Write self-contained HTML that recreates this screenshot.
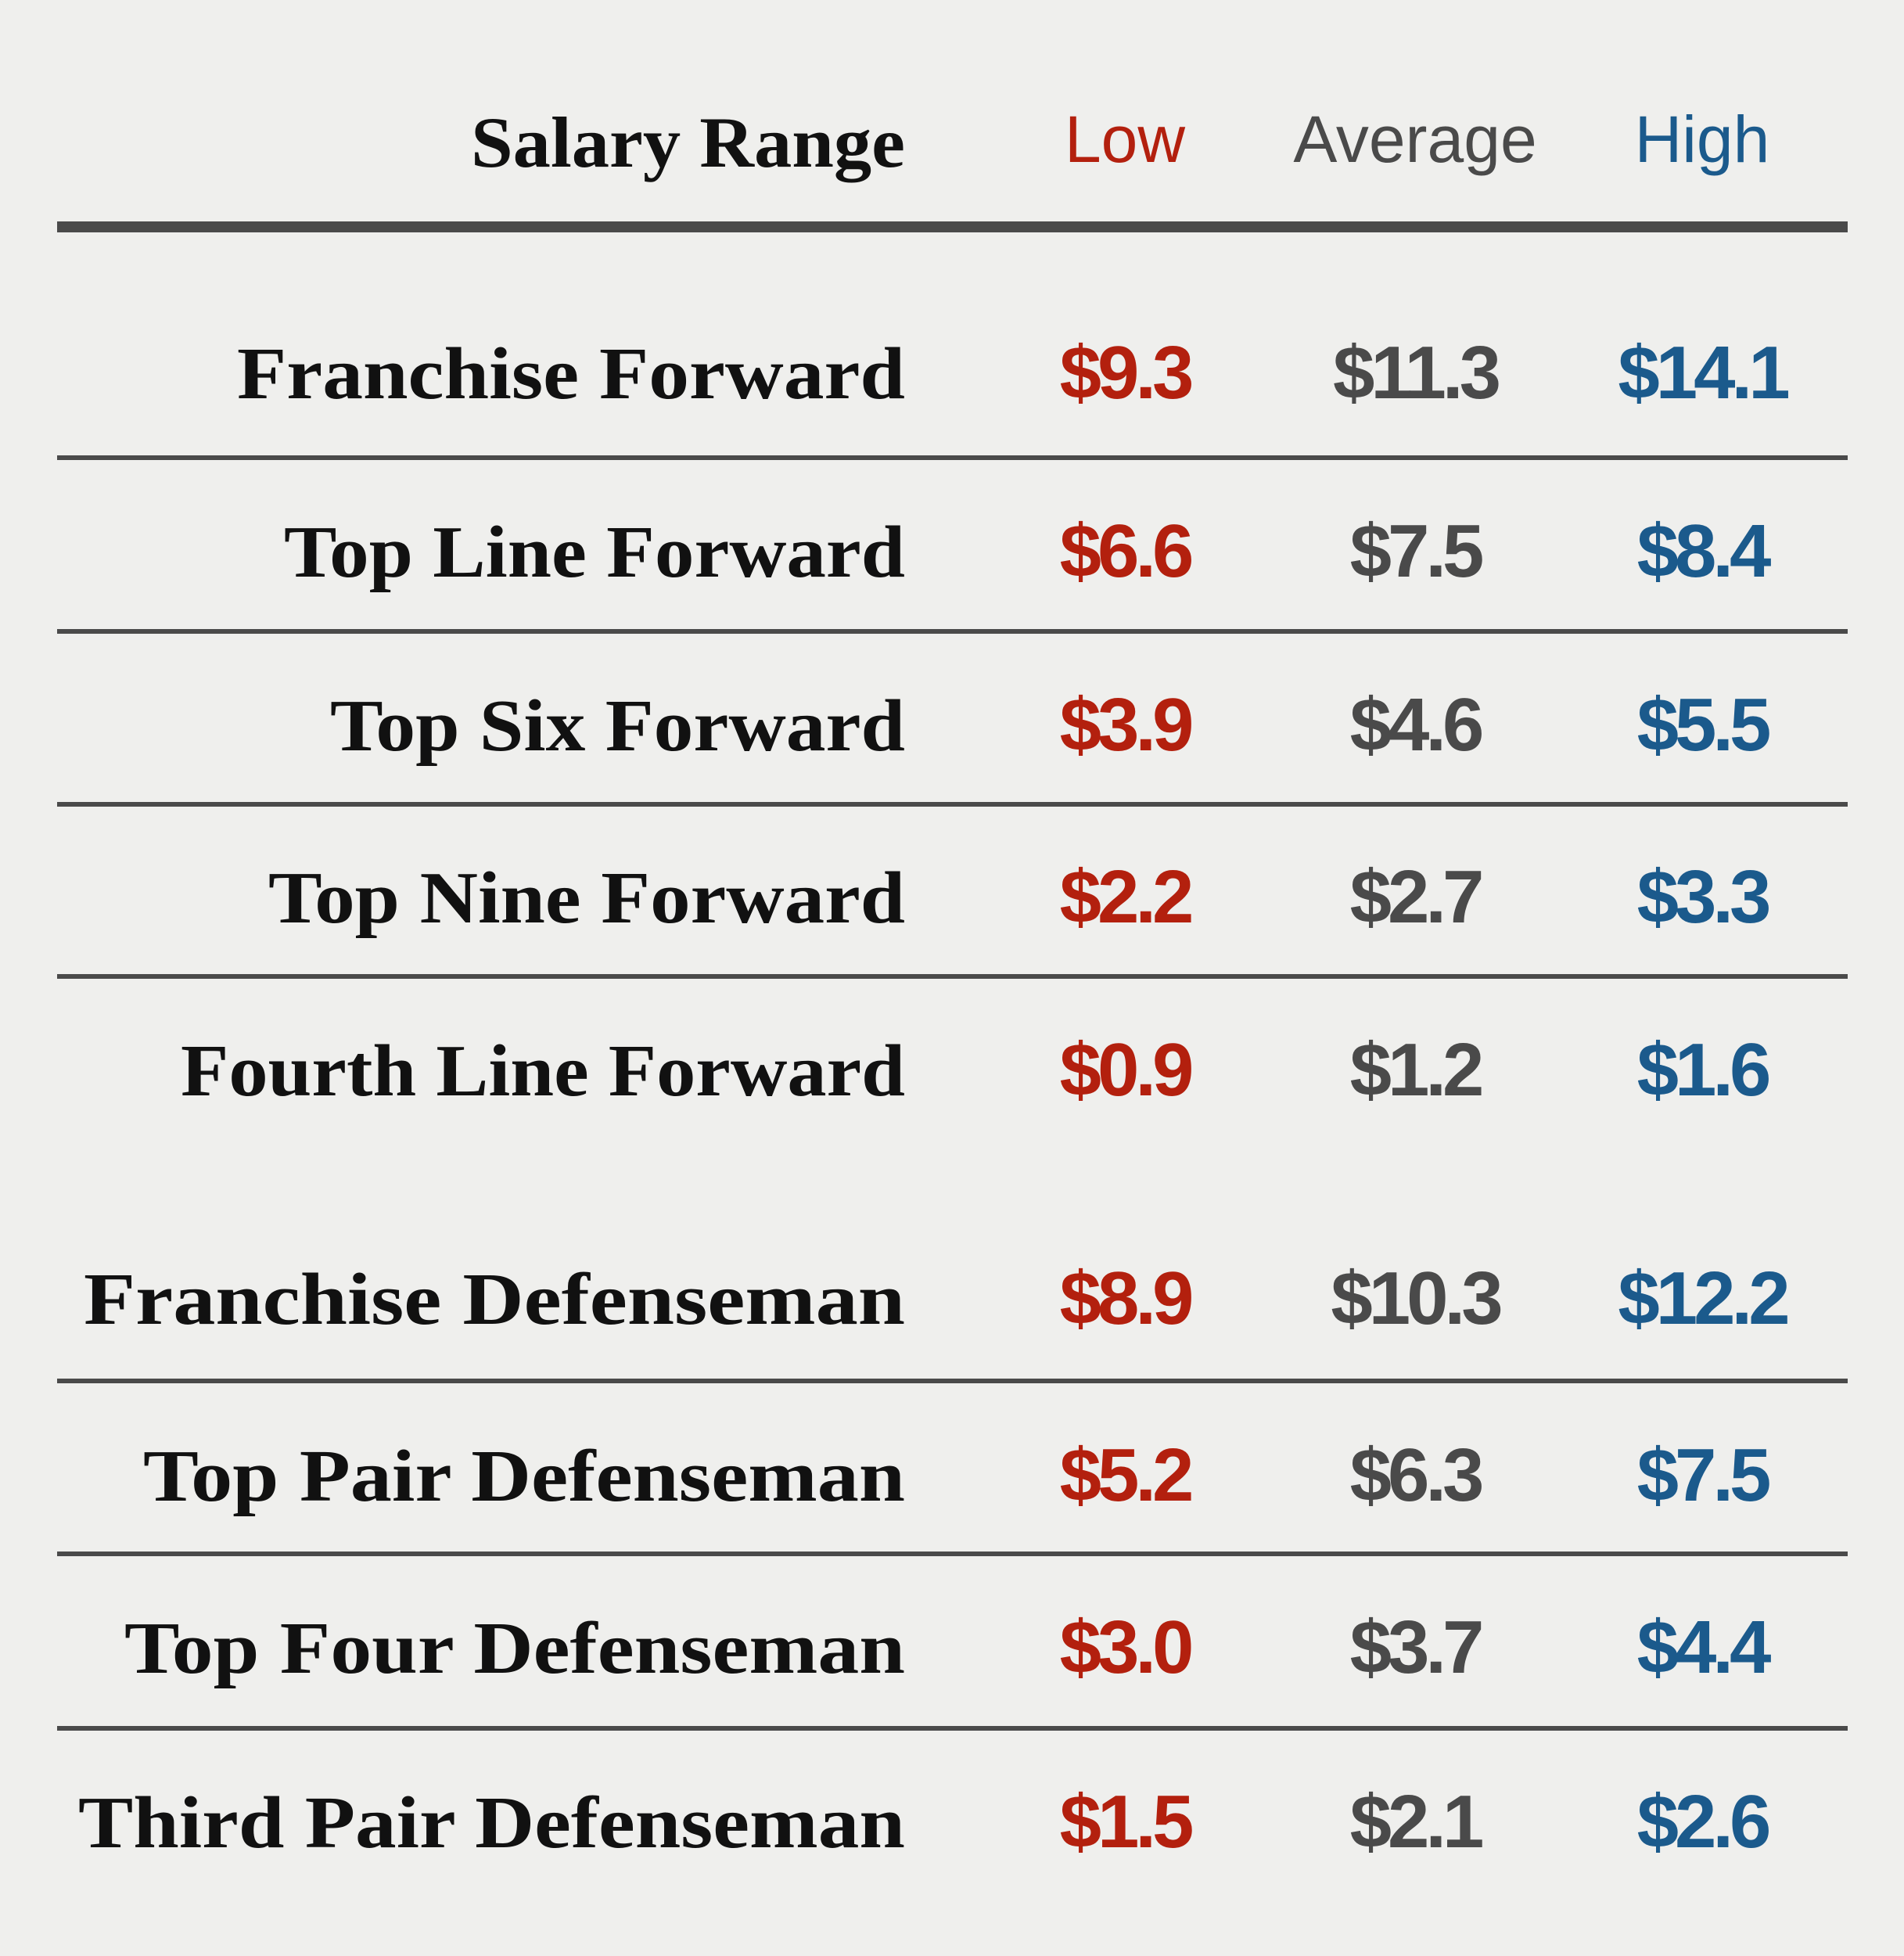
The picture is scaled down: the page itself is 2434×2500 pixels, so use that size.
<!DOCTYPE html>
<html><head><meta charset="utf-8"><style>
html,body{margin:0;padding:0;background:#efefed;}
svg{display:block}
</style></head><body>
<svg id="chart" width="2434" height="2500" viewBox="0 0 2434 2500" xmlns="http://www.w3.org/2000/svg">
<rect width="2434" height="2500" fill="#efefed"/>
<text x="1157" y="213" text-anchor="end" font-family="'Liberation Serif',serif" font-weight="bold" font-size="92" fill="#111" textLength="555" lengthAdjust="spacingAndGlyphs">Salary Range</text>
<text x="1438" y="207" text-anchor="middle" font-family="'Liberation Sans',sans-serif" font-size="84" fill="#b3200e">Low</text>
<text x="1809" y="207" text-anchor="middle" font-family="'Liberation Sans',sans-serif" font-size="84" fill="#4a4a4a">Average</text>
<text x="2176" y="207" text-anchor="middle" font-family="'Liberation Sans',sans-serif" font-size="84" fill="#1b5a8c">High</text>
<rect x="73" y="283" width="2289" height="14" fill="#4a4a4a"/>
<g id="rows"></g>
</svg>
<script>
const categories=["Franchise Forward","Top Line Forward","Top Six Forward","Top Nine Forward","Fourth Line Forward","Franchise Defenseman","Top Pair Defenseman","Top Four Defenseman","Third Pair Defenseman"];
const lowValues=[9.3,6.6,3.9,2.2,0.9,8.9,5.2,3.0,1.5];
const avgValues=[11.3,7.5,4.6,2.7,1.2,10.3,6.3,3.7,2.1];
const highValues=[14.1,8.4,5.5,3.3,1.6,12.2,7.5,4.4,2.6];
const labelWidths=[854,794,735,814,926,1050,974,998,1057];
const rowCenters=[475,703,925,1145,1366,1658,1884,2104,2327];
const ruleYs=[585,807,1028,1248,null,1765,1986,2209,null];
const NS="http://www.w3.org/2000/svg";
const g=document.getElementById('rows');
function t(x,y,txt,opts){const e=document.createElementNS(NS,'text');e.setAttribute('x',x);e.setAttribute('y',y);for(const k in opts)e.setAttribute(k,opts[k]);e.textContent=txt;g.appendChild(e);return e;}
const cols=[[lowValues,1438,'#b3200e','low'],[avgValues,1809,'#4a4a4a','average'],[highValues,2176,'#1b5a8c','high']];
categories.forEach((c,i)=>{
  const y=rowCenters[i]+34;
  const l=t(1157,y,c,{'text-anchor':'end','font-family':"'Liberation Serif',serif",'font-weight':'bold','font-size':'94','fill':'#111','textLength':labelWidths[i],'lengthAdjust':'spacingAndGlyphs'});
  
  
  cols.forEach(([arr,x,col,nm])=>{
    const v=t(x,y,'$'+arr[i].toFixed(1),{'text-anchor':'middle','font-family':"'Liberation Sans',sans-serif",'font-weight':'bold','font-size':'96','fill':col,'letter-spacing':'-5'});
    
    
  });
  if(ruleYs[i]){const r=document.createElementNS(NS,'rect');r.setAttribute('x',73);r.setAttribute('y',ruleYs[i]-3);r.setAttribute('width',2289);r.setAttribute('height',6);r.setAttribute('fill','#4a4a4a');
    
    
    g.appendChild(r);}
});
</script>
</body></html>
